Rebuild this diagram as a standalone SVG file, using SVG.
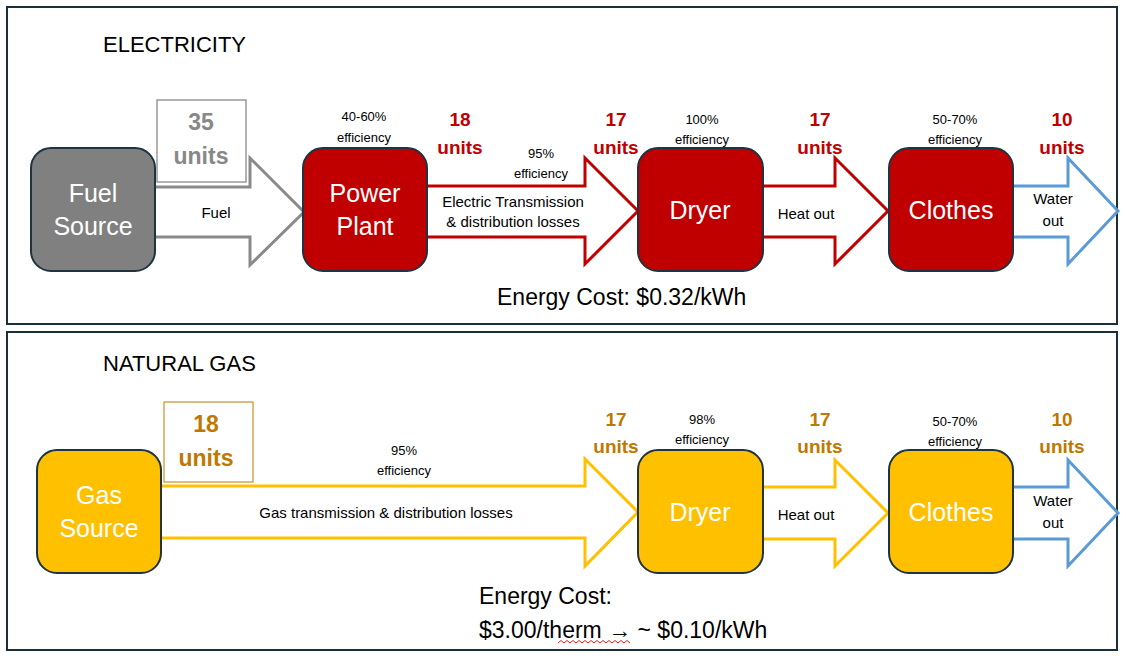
<svg xmlns="http://www.w3.org/2000/svg" width="1126" height="658" viewBox="0 0 1126 658">
<style>
text{font-family:"Liberation Sans",Arial,sans-serif}
.panel{fill:#fff;stroke:#1b2f3a;stroke-width:2}
.node{stroke:#1f3340;stroke-width:2}
.nt{fill:#fff;font-size:25px;text-anchor:middle}
.sm{font-size:13px;text-anchor:middle;fill:#000}
.lb{font-size:15px;text-anchor:middle;fill:#000}
.ur{font-size:19px;font-weight:bold;text-anchor:middle;fill:#c00000}
.uo{font-size:19px;font-weight:bold;text-anchor:middle;fill:#c07800}
.title{font-size:22px;fill:#000}
.cost{font-size:23px;fill:#000}
.arr{fill:#fff;stroke-width:3;stroke-linejoin:miter}
</style>
<rect width="1126" height="658" fill="#fff"/>
<rect class="panel" x="7" y="7" width="1110" height="317"/>
<rect class="panel" x="7" y="332" width="1110" height="318"/>
<text class="title" x="103" y="52">ELECTRICITY</text>
<text class="title" x="103" y="371">NATURAL GAS</text>
<g id="connectors">
<path class="arr" stroke="#8a8a8a" d="M155,187 H250 V158 L304,212 L250,265 V237 H155"/>
<path class="arr" stroke="#c00000" d="M427,186 H585 V158 L638,211 L585,264 V237 H427"/>
<path class="arr" stroke="#c00000" d="M763,186 H835 V158 L888,211 L835,264 V237 H763"/>
<path class="arr" stroke="#5b9bd5" d="M1013,186 H1068 V158 L1118,211 L1068,264 V237 H1013"/>
<path class="arr" stroke="#ffc000" d="M161,486 H585 V459 L638,512 L585,566 V538 H161"/>
<path class="arr" stroke="#ffc000" d="M763,487 H835 V460 L888,513 L835,566 V539 H763"/>
<path class="arr" stroke="#5b9bd5" d="M1013,487 H1068 V460 L1118,513 L1068,566 V539 H1013"/>
</g>
<text class="lb" x="216" y="218">Fuel</text>
<text class="lb" x="513" y="207">Electric Transmission</text>
<text class="lb" x="513" y="227">&amp; distribution losses</text>
<text class="lb" x="806" y="219">Heat out</text>
<text class="lb" x="1053" y="204">Water</text>
<text class="lb" x="1053" y="226">out</text>
<text class="lb" x="386" y="518">Gas transmission &amp; distribution losses</text>
<text class="lb" x="806" y="520">Heat out</text>
<text class="lb" x="1053" y="506">Water</text>
<text class="lb" x="1053" y="528">out</text>
<g id="fuel-source"><rect class="node" fill="#808080" x="31" y="148" width="124" height="123" rx="20"/><text class="nt" x="93" y="202">Fuel</text><text class="nt" x="93" y="235">Source</text></g>
<g id="power-plant"><rect class="node" fill="#c00000" x="303" y="148" width="124" height="123" rx="20"/><text class="nt" x="365" y="202">Power</text><text class="nt" x="365" y="235">Plant</text></g>
<g id="dryer-e"><rect class="node" fill="#c00000" x="638" y="148" width="125" height="123" rx="20"/><text class="nt" x="700" y="219">Dryer</text></g>
<g id="clothes-e"><rect class="node" fill="#c00000" x="889" y="148" width="124" height="123" rx="20"/><text class="nt" x="951" y="219">Clothes</text></g>
<g id="gas-source"><rect class="node" fill="#ffc000" x="37" y="450" width="124" height="123" rx="20"/><text class="nt" x="99" y="504">Gas</text><text class="nt" x="99" y="537">Source</text></g>
<g id="dryer-g"><rect class="node" fill="#ffc000" x="638" y="450" width="125" height="123" rx="20"/><text class="nt" x="700" y="521">Dryer</text></g>
<g id="clothes-g"><rect class="node" fill="#ffc000" x="889" y="450" width="124" height="123" rx="20"/><text class="nt" x="951" y="521">Clothes</text></g>
<g id="units-35"><rect x="157" y="100" width="89" height="82" fill="#fff" stroke="#999" stroke-width="1.5"/><text x="201" y="130" font-size="23" font-weight="bold" fill="#888" text-anchor="middle">35</text><text x="201" y="164" font-size="23" font-weight="bold" fill="#888" text-anchor="middle">units</text></g>
<g id="units-18g"><rect x="164" y="402" width="89" height="80" fill="#fff" stroke="#c07800" stroke-width="1"/><text x="206" y="432" font-size="23" font-weight="bold" fill="#c07800" text-anchor="middle">18</text><text x="206" y="466" font-size="23" font-weight="bold" fill="#c07800" text-anchor="middle">units</text></g>
<text class="sm" x="364" y="121">40-60%</text><text class="sm" x="364" y="142">efficiency</text>
<text class="sm" x="541" y="158">95%</text><text class="sm" x="541" y="178">efficiency</text>
<text class="sm" x="702" y="124">100%</text><text class="sm" x="702" y="144">efficiency</text>
<text class="sm" x="955" y="124">50-70%</text><text class="sm" x="955" y="144">efficiency</text>
<text class="ur" x="460" y="126">18</text><text class="ur" x="460" y="154">units</text>
<text class="ur" x="616" y="126">17</text><text class="ur" x="616" y="154">units</text>
<text class="ur" x="820" y="126">17</text><text class="ur" x="820" y="154">units</text>
<text class="ur" x="1062" y="126">10</text><text class="ur" x="1062" y="154">units</text>
<text class="sm" x="404" y="455">95%</text><text class="sm" x="404" y="475">efficiency</text>
<text class="sm" x="702" y="424">98%</text><text class="sm" x="702" y="444">efficiency</text>
<text class="sm" x="955" y="426">50-70%</text><text class="sm" x="955" y="446">efficiency</text>
<text class="uo" x="616" y="426">17</text><text class="uo" x="616" y="453">units</text>
<text class="uo" x="820" y="426">17</text><text class="uo" x="820" y="453">units</text>
<text class="uo" x="1062" y="426">10</text><text class="uo" x="1062" y="453">units</text>
<text class="cost" x="497" y="305">Energy Cost: $0.32/kWh</text>
<text class="cost" x="479" y="604">Energy Cost:</text>
<text class="cost" x="479" y="638">$3.00/therm → ~ $0.10/kWh</text>
<path d="M558,643 l3,-2.5 l3,2.5 l3,-2.5 l3,2.5 l3,-2.5 l3,2.5 l3,-2.5 l3,2.5 l3,-2.5 l3,2.5 l3,-2.5 l3,2.5 l3,-2.5 l3,2.5 l3,-2.5 l3,2.5 l3,-2.5 l3,2.5 l3,-2.5 l3,2.5 l3,-2.5 l3,2.5 l3,-2.5 l3,2.5" fill="none" stroke="#e02020" stroke-width="1"/>
</svg>
